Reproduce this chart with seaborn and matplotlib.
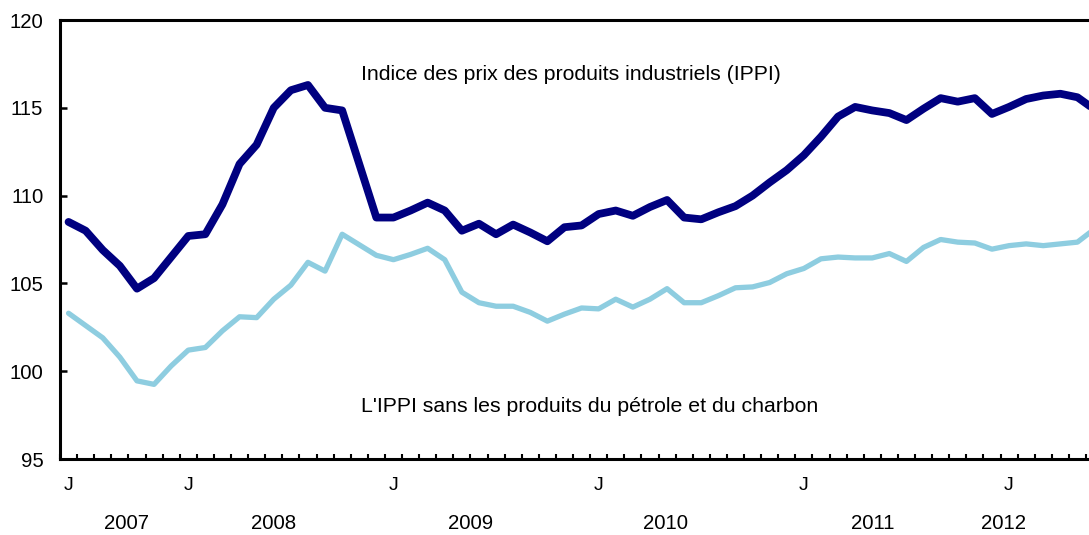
import matplotlib
matplotlib.use("Agg")
import matplotlib.pyplot as plt
import matplotlib.transforms as mtransforms
import numpy as np
import pandas as pd
import seaborn as sns

# Monthly data, June 2007 .. June 2012
months = pd.period_range("2007-06", "2012-06", freq="M")
ippi = [108.5, 108.0, 106.9, 106.0, 104.7, 105.3, 106.5, 107.7, 107.8, 109.5,
        111.8, 112.9, 115.0, 116.0, 116.3, 115.0, 114.85, 111.8, 108.75, 108.75,
        109.15, 109.6, 109.15, 108.0, 108.4, 107.8, 108.35, 107.9, 107.4, 108.2,
        108.3, 108.95, 109.15, 108.85, 109.35, 109.75, 108.75, 108.65, 109.05, 109.4,
        110.0, 110.75, 111.45, 112.3, 113.35, 114.5, 115.05, 114.85, 114.7, 114.3,
        114.95, 115.55, 115.35, 115.55, 114.65, 115.05, 115.5, 115.7, 115.8, 115.6,
        114.9]
ippi_sans = [103.3, 102.6, 101.9, 100.8, 99.45, 99.25, 100.3, 101.2, 101.35, 102.3,
             103.1, 103.05, 104.1, 104.9, 106.2, 105.7, 107.8, 107.2, 106.6, 106.35,
             106.65, 107.0, 106.35, 104.5, 103.9, 103.7, 103.7, 103.35, 102.85, 103.25,
             103.6, 103.55, 104.1, 103.65, 104.1, 104.7, 103.9, 103.9, 104.3, 104.75,
             104.8, 105.05, 105.55, 105.85, 106.4, 106.5, 106.45, 106.45, 106.7, 106.25,
             107.05, 107.5, 107.35, 107.3, 106.95, 107.15, 107.25, 107.15, 107.25, 107.35,
             108.1]
month_tick_idx = [0, 7, 19, 31, 43, 55, 60]
month_tick_labels = ["J", "J", "J", "J", "J", "J", "J"]
years = ["2007", "2008", "2009", "2010", "2011", "2012"]
year_label_pos = [3.4, 12.0, 23.5, 34.9, 47.0, 54.7]
label_ippi = "Indice des prix des produits industriels (IPPI)"
label_sans = "L'IPPI sans les produits du pétrole et du charbon"

df = pd.DataFrame({"idx": np.arange(len(months)), "ippi": ippi, "sans": ippi_sans})

sns.set_style("white")
plt.rcParams["font.family"] = ["Liberation Sans", "DejaVu Sans"]
plt.rcParams["text.color"] = "black"
plt.rcParams["xtick.color"] = "black"
plt.rcParams["ytick.color"] = "black"

fig = plt.figure(figsize=(10.89, 5.35), dpi=100)
W, H = 1089, 535
left_px, top_px, bot_px = 60, 20, 459
px_per_month = 17.1
right_px = left_px + 61 * px_per_month
ax = fig.add_axes([left_px / W, (H - bot_px) / H, (right_px - left_px) / W, (bot_px - top_px) / H])

navy = "#000080"
light = "#8ecde0"
sns.lineplot(data=df, x="idx", y="sans", color=light, linewidth=3.8, ax=ax)
sns.lineplot(data=df, x="idx", y="ippi", color=navy, linewidth=5.6, ax=ax)

ax.set_xlim(-0.5, 60.5)
ax.set_ylim(95, 120)
ax.set_xlabel("")
ax.set_ylabel("")

for s in ["left", "bottom", "top"]:
    ax.spines[s].set_visible(True)
    ax.spines[s].set_color("black")
    ax.spines[s].set_linewidth(2.2)
ax.spines["right"].set_visible(False)

ax.set_yticks([95, 100, 105, 110, 115, 120])
ax.set_yticklabels(["95", "100", "105", "110", "115", "120"])
ax.tick_params(axis="y", direction="in", length=5, width=1.8, pad=12, labelsize=14.7,
               left=True, labelcolor="black")

ax.set_xticks(month_tick_idx)
ax.set_xticklabels(month_tick_labels)
ax.set_xticks(np.arange(-0.5, 61, 1), minor=True)
ax.tick_params(axis="x", which="major", length=0, pad=13, labelsize=14, labelcolor="black")
ax.tick_params(axis="x", which="minor", direction="in", length=3.5, width=1.5, bottom=True)

trans = mtransforms.blended_transform_factory(ax.transData, ax.transAxes)
for yl, xp in zip(years, year_label_pos):
    ax.text(xp, -0.147, yl, transform=trans, ha="center", va="center", fontsize=14.7, color="black")

ax.text(29.4, 116.9, label_ippi, ha="center", va="center", fontsize=15.3, color="black")
ax.text(30.45, 98.0, label_sans, ha="center", va="center", fontsize=15.3, color="black")

fig.savefig("out.png", dpi=100)
